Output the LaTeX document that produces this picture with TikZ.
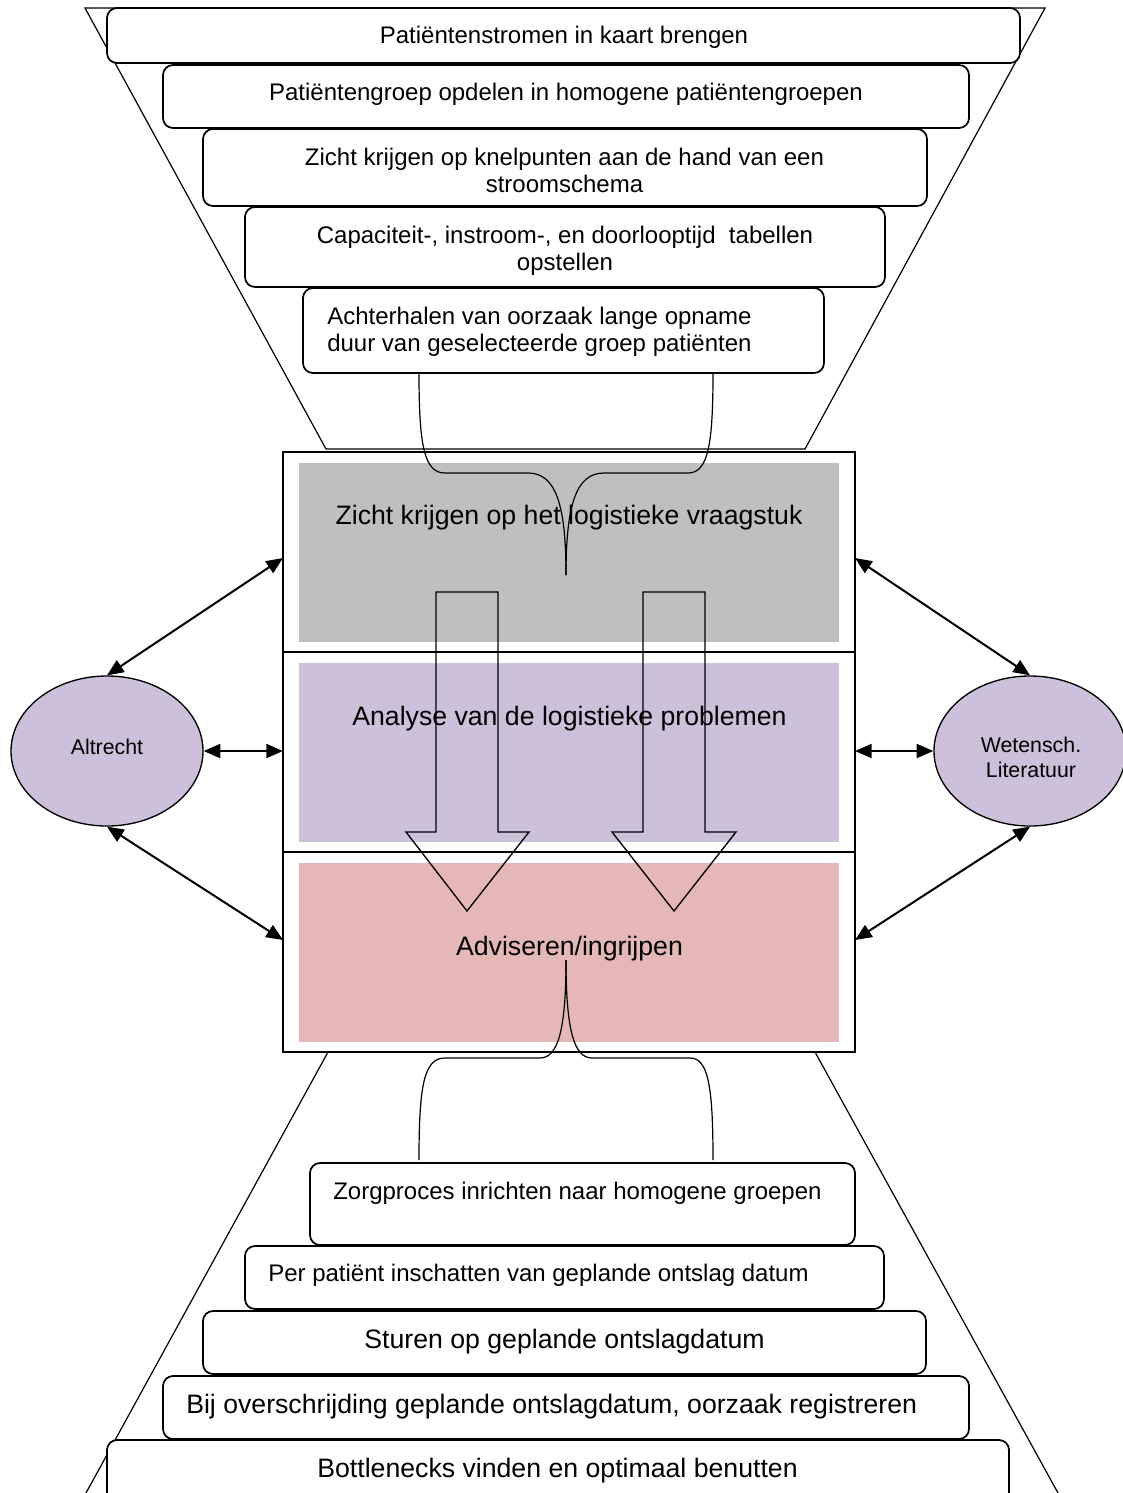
\documentclass[tikz,border=0pt]{standalone}
\usepackage{fontspec}
\setmainfont{Liberation Sans}
\usetikzlibrary{arrows.meta,shapes.geometric,calc}
\definecolor{bandgray}{RGB}{191,191,191}
\definecolor{bandlilac}{RGB}{204,192,218}
\definecolor{bandrose}{RGB}{229,184,183}

\begin{document}
\begin{tikzpicture}[x=0.75pt,y=-0.75pt,
  stepbox/.style={draw=black,line width=1.3pt,fill=white,rounded corners=7.5pt},
  thinline/.style={draw=black,line width=0.9pt},
  steptext/.style={inner sep=0pt,yshift=-2pt,font=\fontsize{18}{20.25}\selectfont,align=center},
  largetext/.style={inner sep=0pt,yshift=-2.2pt,font=\fontsize{20}{24}\selectfont,align=center},
  party/.style={ellipse,draw=black,line width=1pt,fill=bandlilac,minimum width=144pt,
    minimum height=112.5pt,inner sep=0pt},
  partytext/.style={inner sep=0pt,align=center,font=\fontsize{16}{18.75}\selectfont},
  link/.style={line width=1.5pt,{Triangle[length=12.5pt,width=10.5pt]}-{Triangle[length=12.5pt,width=10.5pt]}},
  blockarrow/.style={draw=black,line width=1pt},
]
\useasboundingbox (0,0) rectangle (1123,1493);
\clip (0,0) rectangle (1123,1493);

% funnel outlines
\draw[thinline] (85,8) -- (1045,8) -- (805,449) -- (326,449) -- cycle;
\draw[thinline] (328,1052) -- (86,1493);
\draw[thinline] (815,1052) -- (1058,1493);

% upper steps
\path[stepbox] (107,8) rectangle (1020,63);
\node[steptext] (s1) at (564,35) {Patiëntenstromen in kaart brengen};
\path[stepbox] (163,65) rectangle (969,128);
\node[steptext] (s2) at (566,92) {Patiëntengroep opdelen in homogene patiëntengroepen};
\path[stepbox] (203,129) rectangle (927,206);
\node[steptext] (s3) at (564.5,167.5) {Zicht krijgen op knelpunten aan de hand van een\\stroomschema};
\path[stepbox] (245,207) rectangle (885,287);
\node[steptext] (s4) at (565,248.5) {Capaciteit-, instroom-, en doorlooptijd\ \ tabellen\\opstellen};
\path[stepbox] (303,288) rectangle (824,373);
\node[steptext,align=left,anchor=west] (s5) at (327,329.5) {Achterhalen van oorzaak lange opname\\duur van geselecteerde groep patiënten};

% lower steps
\path[stepbox] (310,1163) rectangle (855,1245);
\node[steptext,anchor=west] (s6) at (333,1191) {Zorgproces inrichten naar homogene groepen};
\path[stepbox] (245,1246) rectangle (884,1309);
\node[steptext,anchor=west] (s7) at (268,1273) {Per patiënt inschatten van geplande ontslag datum};
\path[stepbox] (203,1311) rectangle (926,1374);
\node[largetext] (s8) at (564.5,1339) {Sturen op geplande ontslagdatum};
\path[stepbox] (163,1376) rectangle (969,1439);
\node[largetext,anchor=west] (s9) at (186,1404) {Bij overschrijding geplande ontslagdatum, oorzaak registreren};
\path[stepbox] (107,1440) rectangle (1009,1515);
\node[largetext] (s10) at (557.5,1468) {Bottlenecks vinden en optimaal benutten};

% central three-phase block
\node[draw=black,fill=white,line width=1.3pt,minimum width=429pt,minimum height=450pt,inner sep=0pt] (core) at (569,752) {};
\fill[bandgray] (299,463) rectangle (839,642);
\fill[bandlilac] (299,663) rectangle (839,842);
\fill[bandrose] (299,863) rectangle (839,1042);
\draw[line width=1.3pt] (283,652) -- (855,652);
\draw[line width=1.3pt] (283,852) -- (855,852);
\node[largetext] (p1) at (569,515) {Zicht krijgen op het logistieke vraagstuk};
\node[largetext] (p2) at (569.5,716) {Analyse van de logistieke problemen};
\node[largetext] (p3) at (569.5,946) {Adviseren/ingrijpen};

% downward block arrows
\draw[blockarrow] (436,592) -- (498,592) -- (498,832) -- (529,832) -- (467,911) -- (406,832) -- (436,832) -- cycle;
\draw[blockarrow] (643,592) -- (705,592) -- (705,832) -- (736,832) -- (674,911) -- (612,832) -- (643,832) -- cycle;

% braces gathering the steps
\draw[thinline] (419,373) .. controls (419,445) and (424,473) .. (445,473) -- (528,473)
  .. controls (556,473) and (566,505) .. (566,575);
\draw[thinline] (713,373) .. controls (713,445) and (708,473) .. (688,473) -- (604,473)
  .. controls (576,473) and (566,505) .. (566,575);
\draw[thinline] (566,960) .. controls (566,1030) and (558,1058) .. (540,1058) -- (445,1058)
  .. controls (424,1058) and (419,1085) .. (419,1160);
\draw[thinline] (566,960) .. controls (566,1030) and (574,1058) .. (592,1058) -- (690,1058)
  .. controls (708,1058) and (713,1085) .. (713,1160);

% partners
\node[party] (altrecht) at (107,751) {};
\node[partytext] (altrechttext) at (107,747) {Altrecht};
\node[party] (lit) at (1030,751) {};
\node[partytext] (littext) at (1031,757.5) {Wetensch.\\Literatuur};

\coordinate (cw1) at (283,558);
\coordinate (cw2) at (283,751);
\coordinate (cw3) at (283,940);
\coordinate (ce1) at (855,558);
\coordinate (ce2) at (855,751);
\coordinate (ce3) at (855,940);

\draw[link] (altrecht.north) -- (cw1);
\draw[link] (altrecht.east) -- (cw2);
\draw[link] (altrecht.south) -- (cw3);
\draw[link] (ce1) -- (lit.north);
\draw[link] (ce2) -- (lit.west);
\draw[link] (ce3) -- (lit.south);
\end{tikzpicture}
\end{document}
